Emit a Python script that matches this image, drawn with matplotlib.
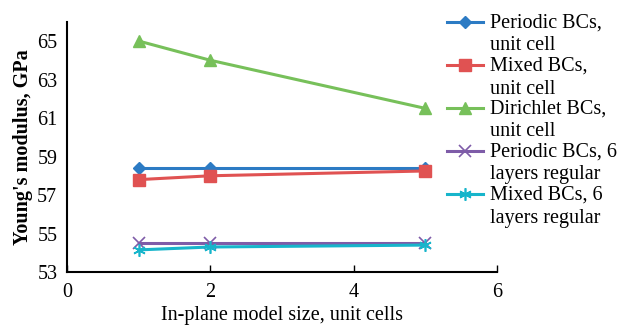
import matplotlib
matplotlib.use("Agg")
import matplotlib.pyplot as plt
from matplotlib.lines import Line2D

plt.rcParams['font.family'] = ['Liberation Serif', 'DejaVu Serif']

# model size in unit cells
sizes = [1, 2, 5]

periodic_cell = [58.4, 58.4, 58.4]
mixed_cell = [57.8, 58.0, 58.25]
dirichlet_cell = [65.0, 64.0, 61.5]
periodic_6 = [54.5, 54.5, 54.5]
mixed_6 = [54.15, 54.3, 54.4]

labels = ["Periodic BCs,\nunit cell", "Mixed BCs,\nunit cell", "Dirichlet BCs,\nunit cell",
          "Periodic BCs, 6\nlayers regular", "Mixed BCs, 6\nlayers regular"]

fs = 14.5
W, H = 617, 325

fig = plt.figure(figsize=(W / 100, H / 100), dpi=100)
ax = fig.add_axes([0.1086, 0.163, 0.697, 0.77])

lw = 2.2
styles = [
    dict(color='#2C7BC4', marker='D', ms=6.5),
    dict(color='#E05252', marker='s', ms=8.5),
    dict(color='#77C05A', marker='^', ms=9),
    dict(color='#7E5CA8', marker='x', ms=8, mew=1.2),
    dict(color='#17B5CB', marker=(6, 2, 0), ms=9, mew=1.2),
]
series = [periodic_cell, mixed_cell, dirichlet_cell, periodic_6, mixed_6]

for vals, st in zip(series, styles):
    ax.plot(sizes, vals, lw=lw, **st)

ax.set_xlim(0, 6)
ax.set_ylim(53, 66)
ax.set_xticks([0, 2, 4, 6])
ax.set_yticks([53, 55, 57, 59, 61, 63, 65])
ax.tick_params(axis='x', direction='in', length=5, width=1, labelsize=fs, pad=8)
ax.tick_params(axis='y', length=0, labelsize=fs, pad=7)

for side in ['top', 'right']:
    ax.spines[side].set_visible(False)
for side in ['left', 'bottom']:
    ax.spines[side].set_linewidth(1.5)

ax.set_xlabel("In-plane model size, unit cells", fontsize=fs, labelpad=3)
ax.set_ylabel("Young's modulus, GPa", fontsize=fs, fontweight='bold', labelpad=3)

# legend drawn by hand so the handle sits on the first text line
x0, x1, xt = 447, 483, 490
y_first, step = 22, 43
for i, (lab, st) in enumerate(zip(labels, styles)):
    yp = y_first + step * i
    y = 1 - yp / H
    fig.add_artist(Line2D([x0 / W, (x0 + x1) / 2 / W, x1 / W], [y, y, y],
                          transform=fig.transFigure, lw=lw, markevery=[1], **st))
    fig.text(xt / W, 1 - (yp - 8) / H, lab, fontsize=fs, va='top', ha='left',
             linespacing=1.25, transform=fig.transFigure)

fig.savefig("out.png", dpi=100)
